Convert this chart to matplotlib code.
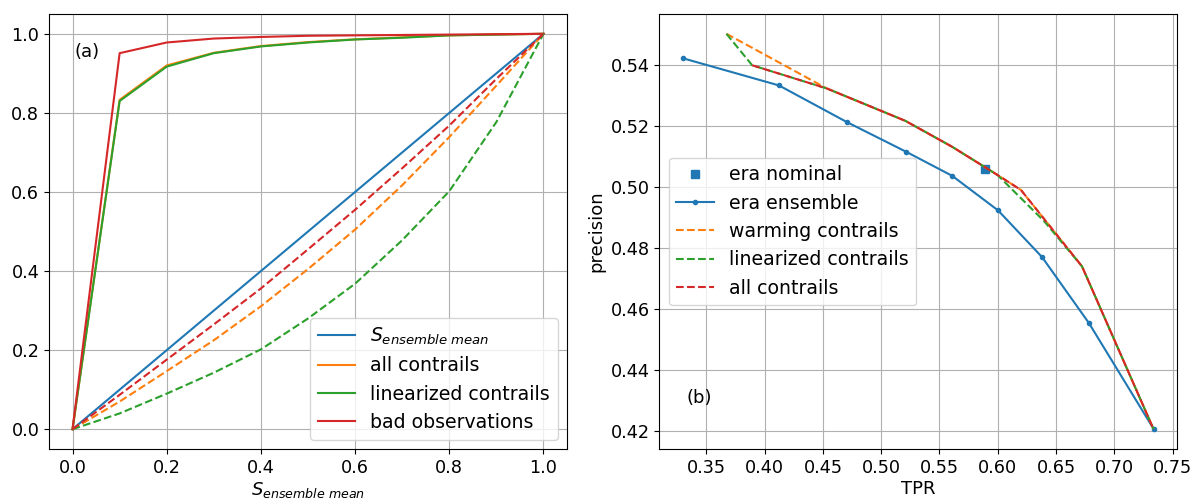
import matplotlib
matplotlib.use("Agg")
import matplotlib.pyplot as plt
import numpy as np

plt.rcParams['font.size'] = 13
plt.rcParams['xtick.labelsize'] = 12.7
plt.rcParams['ytick.labelsize'] = 12.7
plt.rcParams['legend.fontsize'] = 13.6

# ---- panel (a) data
thr = [0.0, 0.1, 0.2, 0.3, 0.4, 0.5, 0.6, 0.7, 0.8, 0.9, 1.0]
s_mean = [0.0, 0.1, 0.2, 0.3, 0.4, 0.5, 0.6, 0.7, 0.8, 0.9, 1.0]
all_solid = [0.0, 0.833, 0.920, 0.952, 0.969, 0.979, 0.986, 0.991, 0.996, 0.998, 1.0]
lin_solid = [0.0, 0.830, 0.917, 0.951, 0.968, 0.978, 0.9856, 0.990, 0.996, 0.998, 1.0]
bad_solid = [0.0, 0.951, 0.978, 0.988, 0.992, 0.995, 0.996, 0.997, 0.998, 0.999, 1.0]
all_dash = [0.0, 0.070, 0.147, 0.225, 0.311, 0.405, 0.505, 0.617, 0.739, 0.869, 1.0]
lin_dash = [0.0, 0.040, 0.090, 0.143, 0.202, 0.280, 0.368, 0.478, 0.602, 0.777, 1.0]
bad_dash = [0.0, 0.087, 0.176, 0.265, 0.356, 0.455, 0.555, 0.660, 0.768, 0.886, 1.0]

# ---- panel (b) data
ens_tpr = [0.3298, 0.4123, 0.4706, 0.5214, 0.561, 0.6003, 0.6381, 0.6783, 0.7339]
ens_prec = [0.5421, 0.5332, 0.5212, 0.5115, 0.5036, 0.4923, 0.4770, 0.4554, 0.4207]
nom_tpr = [0.5888]
nom_prec = [0.5058]
warm_tpr = [0.3672, 0.4534, 0.5208, 0.561, 0.5998, 0.6199, 0.6723, 0.7336]
warm_prec = [0.5501, 0.5322, 0.5216, 0.5131, 0.5039, 0.4990, 0.4740, 0.4208]
lin_tpr = [0.3672, 0.3893, 0.4534, 0.5208, 0.561, 0.5998, 0.640, 0.6723, 0.7336]
lin_prec = [0.5501, 0.5398, 0.5322, 0.5216, 0.5131, 0.5039, 0.4887, 0.4740, 0.4208]
allc_tpr = [0.3893, 0.4534, 0.5208, 0.561, 0.5998, 0.6199, 0.6723, 0.7336]
allc_prec = [0.5398, 0.5322, 0.5216, 0.5131, 0.5039, 0.4990, 0.4740, 0.4208]

fig = plt.figure(figsize=(11.92, 4.99), dpi=100)
ax1 = fig.add_axes((0.0411, 0.1002, 0.4346, 0.8717))
ax2 = fig.add_axes((0.5531, 0.1002, 0.4346, 0.8717))

# panel (a)
ax1.plot(thr, s_mean, color='C0', label='$S_{ensemble\\ mean}$')
ax1.plot(thr, all_solid, color='C1', label='all contrails')
ax1.plot(thr, lin_solid, color='C2', label='linearized contrails')
ax1.plot(thr, bad_solid, color='C3', label='bad observations')
ax1.plot(thr, all_dash, color='C1', ls='--')
ax1.plot(thr, lin_dash, color='C2', ls='--')
ax1.plot(thr, bad_dash, color='C3', ls='--')
ax1.grid(True)
ax1.legend(loc='lower right')
ax1.set_xlabel('$S_{ensemble\\ mean}$', labelpad=2)
ax1.text(0.05, 0.912, '(a)', transform=ax1.transAxes, va='center')

# panel (b)
ax2.plot(nom_tpr, nom_prec, 's', color='C0', label='era nominal')
ax2.plot(ens_tpr, ens_prec, '.-', color='C0', label='era ensemble')
ax2.plot(warm_tpr, warm_prec, '--', color='C1', label='warming contrails')
ax2.plot(lin_tpr, lin_prec, '--', color='C2', label='linearized contrails')
ax2.plot(allc_tpr, allc_prec, '--', color='C3', label='all contrails')
ax2.grid(True)
ax2.legend(loc='center left')
ax2.set_xlabel('TPR', labelpad=2)
ax2.set_ylabel('precision')
ax2.set_xticks(np.arange(0.35, 0.751, 0.05))
ax2.text(0.052, 0.117, '(b)', transform=ax2.transAxes, va='center')

fig.savefig('out.png', dpi=100)
